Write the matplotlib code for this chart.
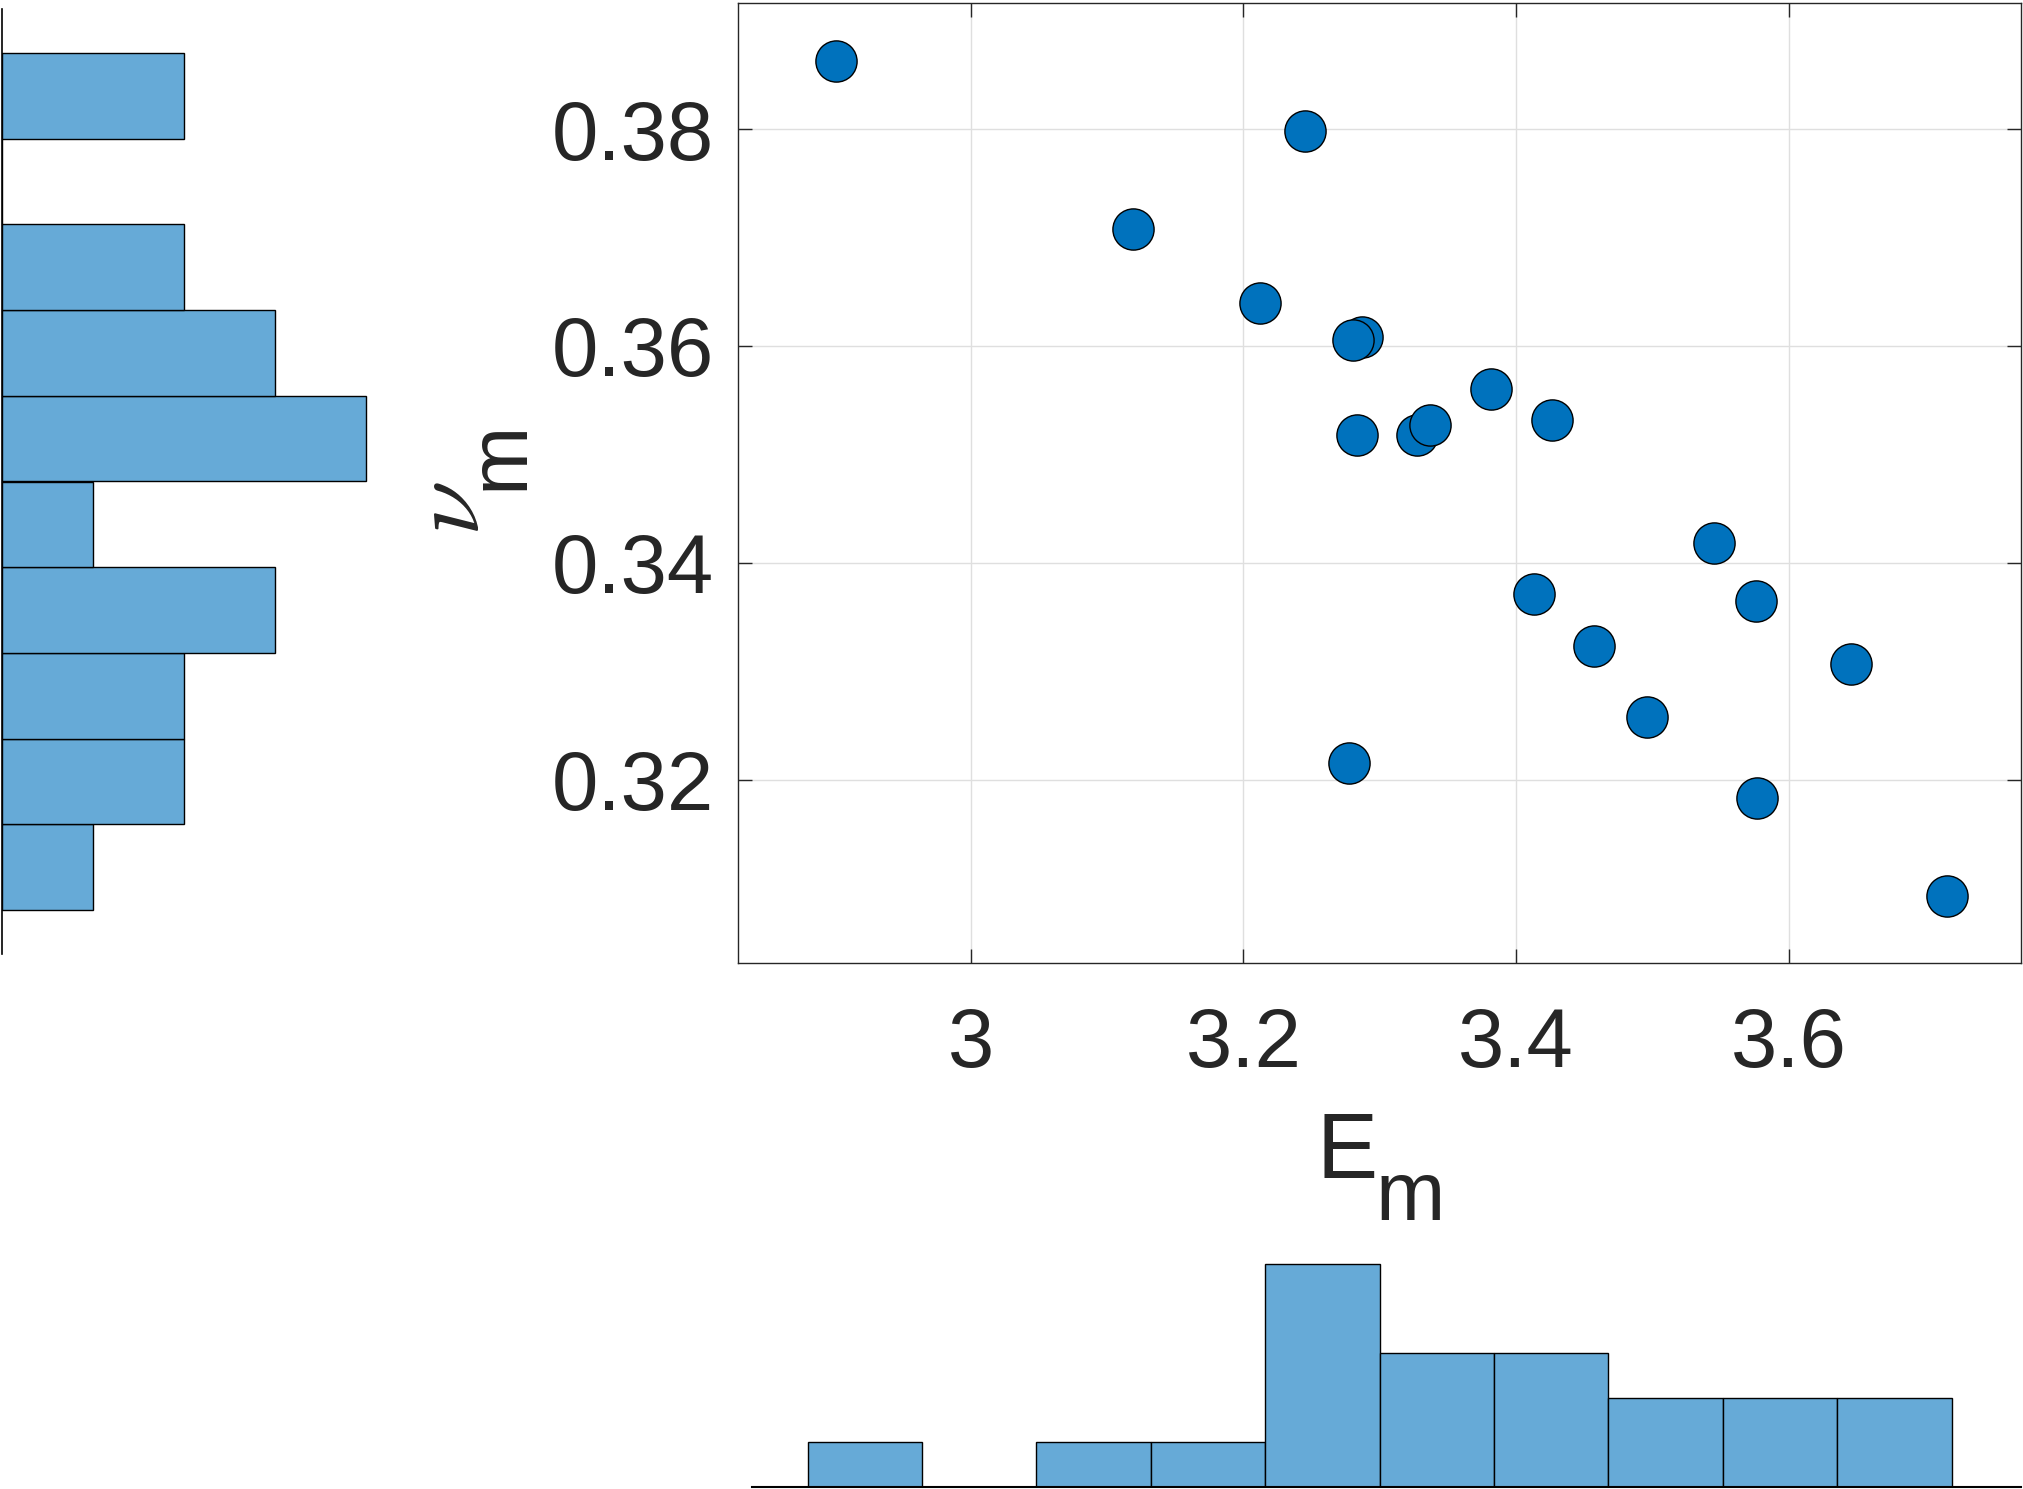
import numpy as np
import matplotlib
matplotlib.use("Agg")
import matplotlib.pyplot as plt

# scatter data
E_m = [2.9016, 3.2451, 3.1193, 3.2120, 3.2868, 3.2802, 3.2830, 3.3275, 3.3370, 3.3814,
       3.4259, 3.5452, 3.4127, 3.5755, 3.4572, 3.6455, 3.4960, 3.2773, 3.5764, 3.7156]
nu_m = [0.3863, 0.3798, 0.3708, 0.3640, 0.3608, 0.3605, 0.3518, 0.3518, 0.3527, 0.3560,
        0.3532, 0.3418, 0.3371, 0.3365, 0.3323, 0.3307, 0.3258, 0.3215, 0.3183, 0.3093]

x_ticks = [3, 3.2, 3.4, 3.6]
x_tick_labels = ["3", "3.2", "3.4", "3.6"]
y_ticks = [0.32, 0.34, 0.36, 0.38]
y_tick_labels = ["0.32", "0.34", "0.36", "0.38"]

# histogram bin ranges (10 bins each)
E_bin_range = (2.8807, 3.7193)
nu_bin_range = (0.30798, 0.38702)

plt.rcParams['font.family'] = ['Liberation Sans', 'DejaVu Sans']

W, H = 2024, 1489
DARK = '#262626'
BAR = '#66aad7'


def px_box(left, top, right, bottom):
    """axes rect from pixel edges (origin top-left)"""
    return [left / W, 1 - bottom / H, (right - left) / W, (bottom - top) / H]


fig = plt.figure(figsize=(W / 100, H / 100), dpi=100)

# main scatter
ax = fig.add_axes(px_box(738, 3, 2021, 963))
ax.scatter(E_m, nu_m, s=880, c='#0072bd', edgecolors='black', linewidths=1, zorder=3)
ax.set_xlim(2.8294, 3.7701)
ax.set_ylim(0.30309, 0.39162)
ax.set_xticks(x_ticks)
ax.set_xticklabels(x_tick_labels)
ax.set_yticks(y_ticks)
ax.set_yticklabels(y_tick_labels)
ax.grid(True, color='#dfdfdf', lw=1)
ax.set_axisbelow(True)
ax.tick_params(direction='in', length=10, width=1, top=True, right=True,
               labelsize=60, colors=DARK)
ax.tick_params(axis='x', pad=31)
ax.tick_params(axis='y', pad=17)
for s in ax.spines.values():
    s.set_color(DARK)
    s.set_linewidth(1)

# y marginal histogram
axy = fig.add_axes(px_box(2, 9, 502, 954))
axy.hist(nu_m, bins=10, range=nu_bin_range, orientation='horizontal',
         color=BAR, edgecolor='black', lw=1.0)
axy.set_xlim(0, 500 / 91)
axy.set_ylim(0.30393, 0.39107)
axy.set_xticks([])
axy.set_yticks([])
axy.patch.set_visible(False)
for name in ['top', 'right', 'bottom']:
    axy.spines[name].set_visible(False)
axy.spines['left'].set_linewidth(1.2)

# x marginal histogram
axx = fig.add_axes(px_box(752, 1187, 2021, 1487))
axx.hist(E_m, bins=10, range=E_bin_range, color=BAR, edgecolor='black', lw=1.0)
axx.set_xlim(2.8399, 3.7701)
axx.set_ylim(0, 300 / 44.7)
axx.set_xticks([])
axx.set_yticks([])
axx.patch.set_visible(False)
for name in ['top', 'right', 'left']:
    axx.spines[name].set_visible(False)
axx.spines['bottom'].set_linewidth(1.5)

# axis labels, TeX-style subscripts
fig.text(1316 / W, 1 - 1178 / H, 'E', size=66, color=DARK, ha='left', va='baseline')
fig.text(1376 / W, 1 - 1220 / H, 'm', size=60, color=DARK, ha='left', va='baseline')
fig.text(479 / W, 1 - 536 / H, r'$\nu$', math_fontfamily='cm', size=72, color=DARK,
         rotation=90, rotation_mode='anchor', ha='left', va='baseline')
fig.text(522 / W, 1 - 490 / H, 'm', size=60, color=DARK,
         rotation=90, rotation_mode='anchor', ha='left', va='baseline')

fig.savefig('out.png', dpi=100)
